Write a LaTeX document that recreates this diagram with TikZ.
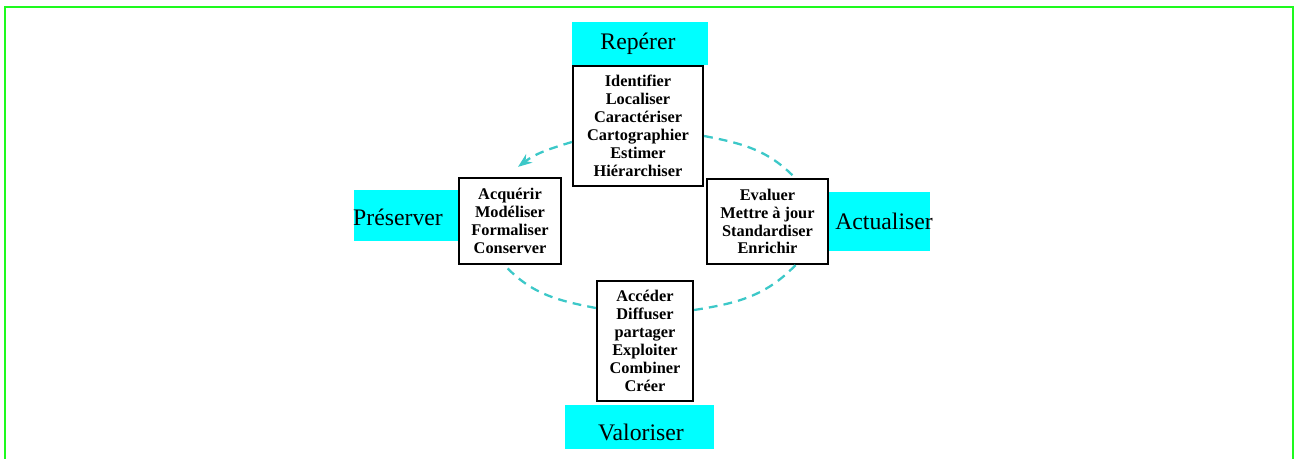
\documentclass[tikz,border=0pt]{standalone}
\usepackage{fontspec}
\setmainfont{Liberation Serif}
\usepackage{xcolor}
\usepackage{tikz}
\usetikzlibrary{arrows.meta}
\definecolor{tagcyan}{RGB}{0,255,255}
\definecolor{cyclecol}{RGB}{60,200,200}
\definecolor{framegreen}{RGB}{30,250,30}

\begin{document}
\begin{tikzpicture}[x = 0.02cm, y = -0.02cm,
        tag/.style = {fill = tagcyan, inner sep = 0pt},
        tagtext/.style = {inner sep = 0pt, font = \fontsize{13.5}{15}\selectfont},
        task/.style = {draw = black, fill = white, line width = 1.3pt, inner sep = 0pt, align = center,
                font = \fontsize{9.3}{10.2}\selectfont\bfseries},
        cycle/.style = {draw = cyclecol, line width = 1.3pt, dash pattern = on 5pt off 3.5pt}]
        \useasboundingbox (0, 0) rectangle (1294, 459);
        \draw [framegreen, line width = 1.1pt] (5, 7) rectangle (1293, 480);

        \node [tag, minimum width = 2.72cm, minimum height = 0.86cm,
                label = {[tagtext, xshift = -0.04cm]center:Repérer}] (reperer) at (640, 43.5) {};
        \node [tag, minimum width = 2.08cm, minimum height = 1.02cm,
                label = {[tagtext, xshift = -0.16cm, yshift = -0.03cm]center:Préserver}] (preserver) at (406, 215.5) {};
        \node [tag, minimum width = 2.04cm, minimum height = 1.18cm,
                label = {[tagtext, xshift = 0.1cm]center:Actualiser}] (actualiser) at (879, 221.5) {};
        \node [tag, minimum width = 2.98cm, minimum height = 0.88cm,
                label = {[tagtext, xshift = 0.03cm, yshift = -0.1cm]center:Valoriser}] (valoriser) at (639.5, 427) {};

        \node [task, minimum width = 2.6cm, minimum height = 2.4cm] (tasktop) at (638, 126)
                {Identifier\\Localiser\\Caractériser\\Cartographier\\Estimer\\Hiérarchiser};
        \node [task, minimum width = 2.04cm, minimum height = 1.72cm] (taskleft) at (510, 221)
                {Acquérir\\Modéliser\\Formaliser\\Conserver};
        \node [task, minimum width = 2.42cm, minimum height = 1.7cm] (taskright) at (767.5, 221.5)
                {Evaluer\\Mettre à jour\\Standardiser\\Enrichir};
        \node [task, minimum width = 1.92cm, minimum height = 2.4cm] (taskbottom) at (645, 341)
                {Accéder\\Diffuser\\partager\\Exploiter\\Combiner\\Créer};

        \draw [cycle, -{Stealth[length = 8pt, width = 6pt]}] ([yshift = -0.32cm] tasktop.west) to [out = 197, in = 37] ([xshift = 0.16cm, yshift = 0.2cm] taskleft.north);
        \draw [cycle] ([yshift = -0.2cm] tasktop.east) to [out = -11, in = 134] ([xshift = 0.55cm] taskright.north);
        \draw [cycle] ([xshift = 0.56cm] taskright.south) to [out = 226, in = 9] ([yshift = 0.62cm] taskbottom.east);
        \draw [cycle] ([yshift = 0.66cm] taskbottom.west) to [out = 169, in = -47] ([xshift = -0.11cm] taskleft.south);
\end{tikzpicture}
\end{document}
